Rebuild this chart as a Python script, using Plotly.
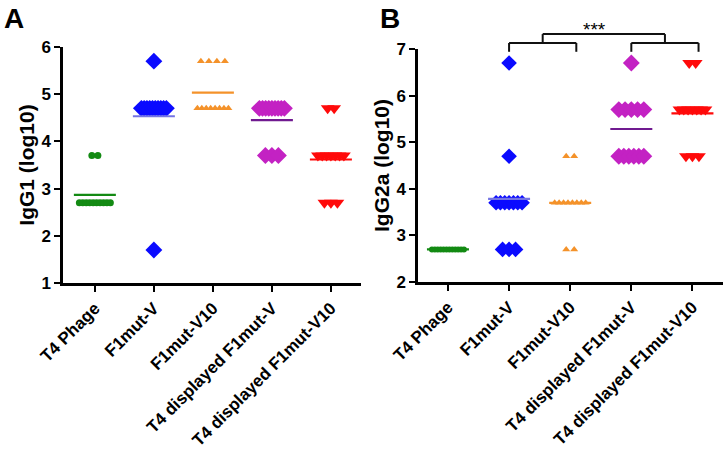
import plotly.graph_objects as go

categories = ["T4 Phage", "F1mut-V", "F1mut-V10", "T4 displayed F1mut-V", "T4 displayed F1mut-V10"]

# Panel A: IgG1 (log10), one list per group
a_t4 = [3.7, 3.7, 2.7, 2.7, 2.7, 2.7, 2.7, 2.7, 2.7, 2.7, 2.7, 2.7]
a_v = [5.7, 4.7, 4.7, 4.7, 4.7, 4.7, 4.7, 4.7, 4.7, 4.7, 4.7, 1.7]
a_v10 = [5.7, 5.7, 5.7, 5.7, 4.7, 4.7, 4.7, 4.7, 4.7, 4.7, 4.7, 4.7]
a_dv = [4.7, 4.7, 4.7, 4.7, 4.7, 4.7, 4.7, 4.7, 4.7, 3.7, 3.7, 3.7]
a_dv10 = [4.7, 4.7, 3.7, 3.7, 3.7, 3.7, 3.7, 3.7, 3.7, 2.7, 2.7, 2.7]

# Panel B: IgG2a (log10)
b_t4 = [2.7, 2.7, 2.7, 2.7, 2.7, 2.7, 2.7, 2.7, 2.7, 2.7, 2.7, 2.7]
b_v = [6.7, 4.7, 3.7, 3.7, 3.7, 3.7, 3.7, 3.7, 3.7, 2.7, 2.7, 2.7]
b_v10 = [4.7, 4.7, 3.7, 3.7, 3.7, 3.7, 3.7, 3.7, 3.7, 3.7, 2.7, 2.7]
b_dv = [6.7, 5.7, 5.7, 5.7, 5.7, 5.7, 4.7, 4.7, 4.7, 4.7, 4.7, 4.7]
b_dv10 = [6.7, 6.7, 5.7, 5.7, 5.7, 5.7, 5.7, 5.7, 5.7, 4.7, 4.7, 4.7]

y_ticks_a = [1, 2, 3, 4, 5, 6]
y_ticks_b = [2, 3, 4, 5, 6, 7]
sig_label = "***"

W, H = 728, 453
FONT = "Liberation Sans, Arial, sans-serif"

# styles per group: symbol, color, mean color, size A, size B, max spacing px
styles = [
    ("circle", "#138a13", "#138a13", 7, 6, 6),
    ("diamond", "#0a0aff", "#7474e4", 13, 12, 6.5),
    ("triangle-up", "#f4922a", "#f4922a", 7, 7, 8),
    ("diamond", "#c322c3", "#701a90", 13, 13, 6.5),
    ("triangle-down", "#ff0a0a", "#ff0a0a", 12, 12, 6.5),
]

dom_a_x = [63 / W, 361 / W]
dom_a_y = [1 - 283 / H, 1 - 47 / H]
dom_b_x = [418 / W, 723 / W]
dom_b_y = [1 - 282 / H, 1 - 49 / H]
rng_a_x = [-0.54, 4.51]
rng_b_x = [-0.49, 4.5]
rng_a_y = [1, 6]
rng_b_y = [2, 7]


def px_per_unit(dom, rng):
    return (dom[1] - dom[0]) * W / (rng[1] - rng[0])


def spread(values, size, smax, ppu):
    xs_off = [0.0] * len(values)
    groups = {}
    for i, v in enumerate(values):
        groups.setdefault(v, []).append(i)
    for v, idx in groups.items():
        n = len(idx)
        if n == 1:
            continue
        span = 38 - size
        sp = min(smax, span / (n - 1))
        for k, i in enumerate(idx):
            xs_off[i] = (k - (n - 1) / 2) * sp / ppu
    return xs_off


fig = go.Figure()
panels = [
    ([a_t4, a_v, a_v10, a_dv, a_dv10], "x", "y", px_per_unit(dom_a_x, rng_a_x), 3),
    ([b_t4, b_v, b_v10, b_dv, b_dv10], "x2", "y2", px_per_unit(dom_b_x, rng_b_x), 4),
]
for groups, xa, ya, ppu, size_idx in panels:
    for ci, vals in enumerate(groups):
        sym, col, mcol, sa, sb, smax = styles[ci]
        size = sa if size_idx == 3 else sb
        offs = spread(vals, size, smax, ppu)
        fig.add_trace(go.Scatter(
            x=[ci + o for o in offs], y=vals, mode="markers", xaxis=xa, yaxis=ya,
            marker=dict(symbol=sym, size=size, color=col, line=dict(width=0)),
            showlegend=False, hoverinfo="skip"))
    for ci, vals in enumerate(groups):
        sym, col, mcol, sa, sb, smax = styles[ci]
        m = sum(vals) / len(vals)
        hw = 21 / ppu
        fig.add_trace(go.Scatter(
            x=[ci - hw, ci + hw], y=[m, m], mode="lines", xaxis=xa, yaxis=ya,
            line=dict(color=mcol, width=2.2), showlegend=False, hoverinfo="skip"))

axis_common = dict(showline=True, linewidth=2.5, linecolor="black", ticks="outside",
                   ticklen=6, tickwidth=2, tickcolor="black", showgrid=False, zeroline=False,
                   automargin=False,
                   tickfont=dict(family=FONT, size=17, color="black", weight="bold"))

xcommon = dict(axis_common, tickmode="array", tickvals=list(range(len(categories))),
               ticktext=categories, tickangle=-45,
               tickfont=dict(family=FONT, size=17, color="black", weight="bold"))

fig.update_layout(
    width=W, height=H, margin=dict(l=0, r=0, t=0, b=0),
    plot_bgcolor="white", paper_bgcolor="white",
    xaxis=dict(xcommon, domain=dom_a_x, range=rng_a_x, anchor="y"),
    yaxis=dict(axis_common, domain=dom_a_y, range=rng_a_y, anchor="x",
               tickmode="array", tickvals=y_ticks_a,
               title=dict(text="IgG1 (log10)", standoff=2,
                          font=dict(family=FONT, size=21, color="black", weight="bold"))),
    xaxis2=dict(xcommon, domain=dom_b_x, range=rng_b_x, anchor="y2"),
    yaxis2=dict(axis_common, domain=dom_b_y, range=rng_b_y, anchor="x2",
                tickmode="array", tickvals=y_ticks_b,
                title=dict(text="IgG2a (log10)", standoff=2,
                           font=dict(family=FONT, size=21, color="black", weight="bold"))),
)


def fx(x):
    return (x - rng_b_x[0]) / (rng_b_x[1] - rng_b_x[0])


def fy(v):
    return (v - rng_b_y[0]) / (rng_b_y[1] - rng_b_y[0])


def py(v):
    return dom_b_y[0] + fy(v) * (dom_b_y[1] - dom_b_y[0])


def bracket(x1, x2, ybar, yleg):
    for (xa0, ya0, xa1, ya1) in [(x1, yleg, x1, ybar), (x1, ybar, x2, ybar), (x2, ybar, x2, yleg)]:
        fig.add_shape(type="line", xref="x2 domain", yref="y2 domain",
                      x0=fx(xa0), y0=fy(ya0), x1=fx(xa1), y1=fy(ya1),
                      line=dict(color="#111111", width=2))


bracket(1, 2.1, 7.13, 6.94)
bracket(3, 4.1, 7.13, 6.94)
bracket(1.55, 3.55, 7.32, 7.13)

fig.add_annotation(text=sig_label, xref="x2 domain", yref="paper", x=fx(2.4), y=py(7.15),
                   yanchor="bottom", showarrow=False,
                   font=dict(family=FONT, size=19, color="black"))

for lab, xp in [("A", 14), ("B", 390)]:
    fig.add_annotation(text=lab, xref="paper", yref="paper", x=xp / W, y=1 - 19 / H,
                       showarrow=False, xanchor="center", yanchor="middle",
                       font=dict(family=FONT, size=28, color="black", weight="bold"))

fig.write_html("out.html", config={"displayModeBar": False},
               post_script="document.body.style.margin='0';document.body.style.overflow='hidden';")
